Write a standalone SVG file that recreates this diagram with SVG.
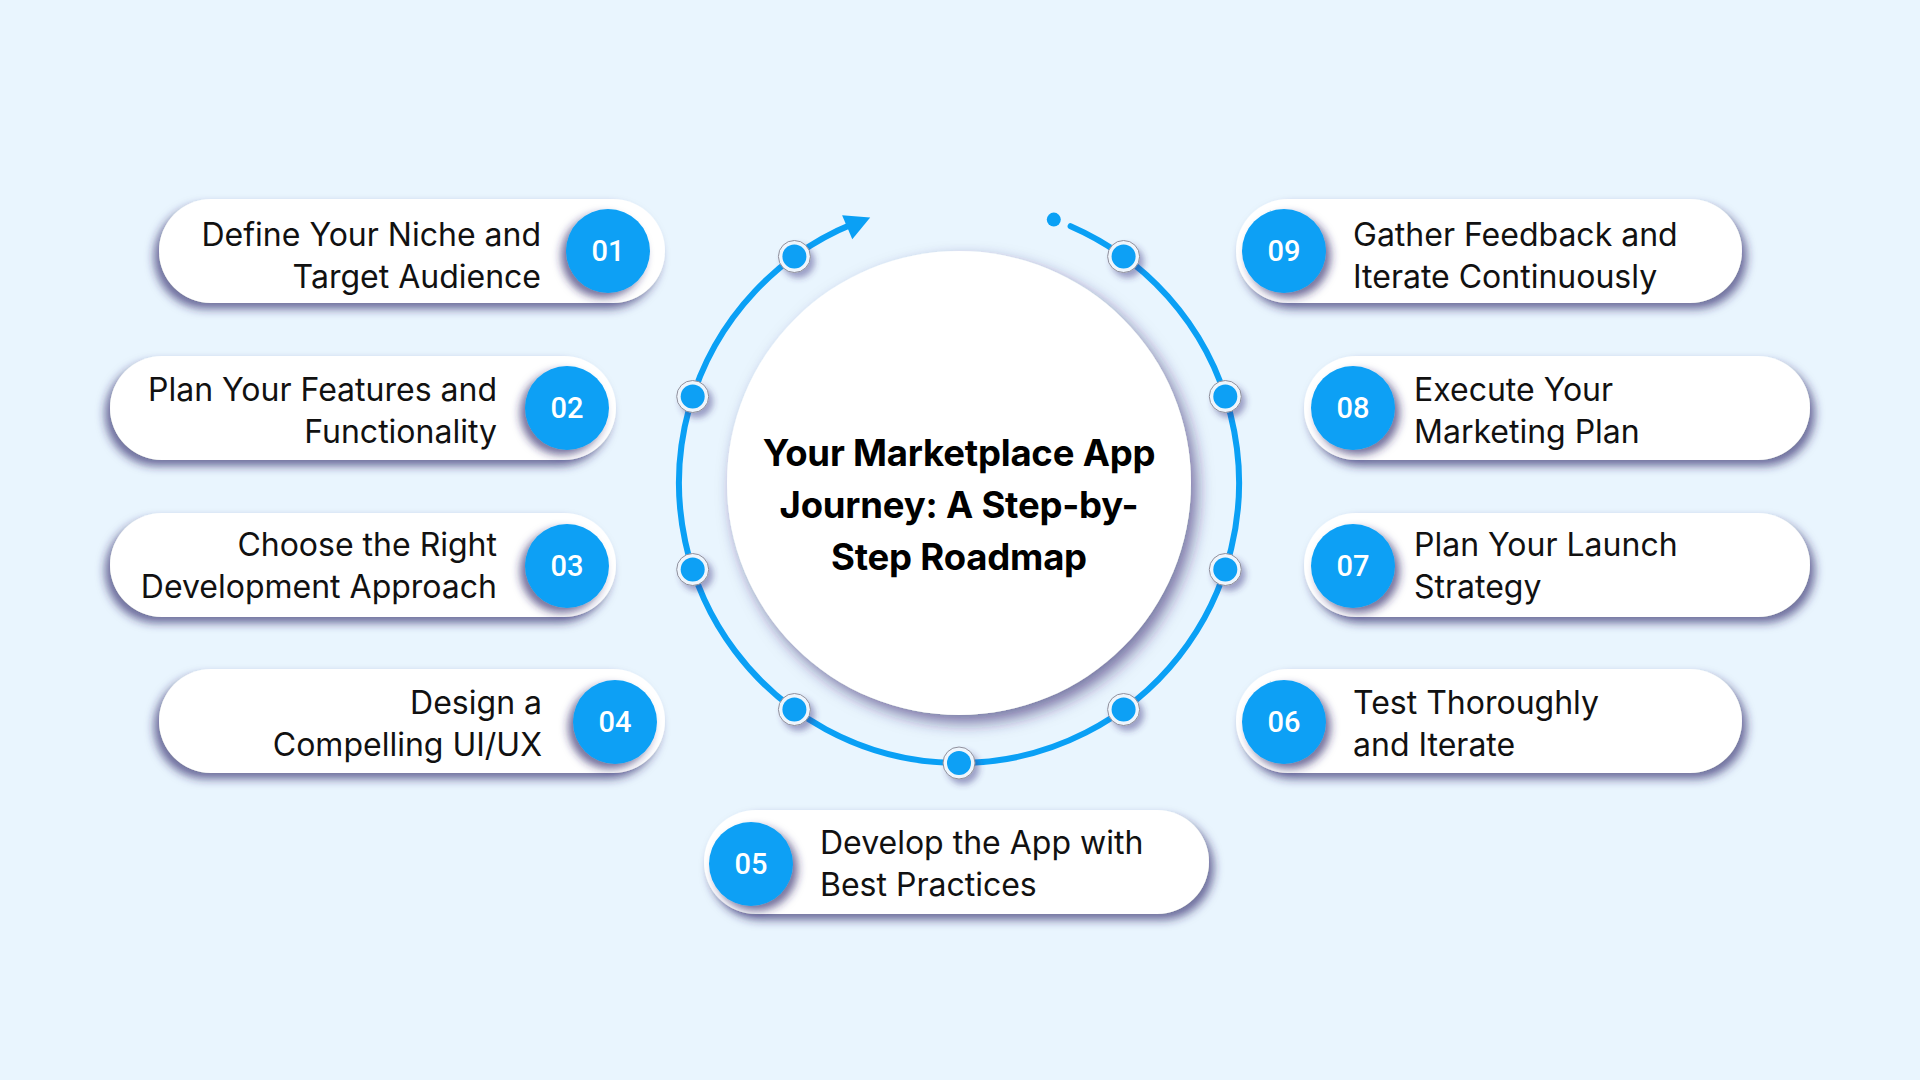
<svg xmlns="http://www.w3.org/2000/svg" width="1920" height="1080" viewBox="0 0 1920 1080">
<defs>
<filter id="shL" x="-20%" y="-40%" width="140%" height="190%">
<feDropShadow dx="-5" dy="6" stdDeviation="5" flood-color="#2a2468" flood-opacity="0.65"/>
</filter>
<filter id="shR" x="-20%" y="-40%" width="140%" height="190%">
<feDropShadow dx="5" dy="6" stdDeviation="5" flood-color="#2a2468" flood-opacity="0.65"/>
</filter>
<filter id="bshL" x="-50%" y="-50%" width="200%" height="200%">
<feDropShadow dx="-5" dy="5" stdDeviation="4" flood-color="#2a2468" flood-opacity="0.65"/>
</filter>
<filter id="bshR" x="-50%" y="-50%" width="200%" height="200%">
<feDropShadow dx="5" dy="5" stdDeviation="4" flood-color="#2a2468" flood-opacity="0.65"/>
</filter>
<filter id="csh" x="-20%" y="-20%" width="140%" height="140%">
<feDropShadow dx="6" dy="8" stdDeviation="8" flood-color="#2a2468" flood-opacity="0.6"/>
</filter>
<filter id="dsh" x="-60%" y="-60%" width="220%" height="220%">
<feDropShadow dx="4" dy="5" stdDeviation="3" flood-color="#3a3480" flood-opacity="0.45"/>
</filter>
</defs>
<style>
.pill{fill:#ffffff}
.badge{fill:#0aa0f5}
.num{font-family:Roboto,"Liberation Sans",sans-serif;font-weight:500;font-size:29px;fill:#ffffff;text-anchor:middle}
.lbl{font-family:Inter,"Liberation Sans",sans-serif;font-size:32px;fill:#111111}
.r{text-anchor:end}
.title{font-family:Inter,"Liberation Sans",sans-serif;font-weight:700;font-size:36.5px;fill:#000000;text-anchor:middle;letter-spacing:-0.2px}
.ring{fill:none;stroke:#0aa0f5;stroke-width:6;stroke-linecap:round}
.dotO{fill:#eef5fc;stroke:#8f8f9c;stroke-width:1}
.dotI{fill:#0aa0f5}
</style>
<rect x="0" y="0" width="1920" height="1080" fill="#e9f5fe"/>

<g id="connectors">
<path class="ring" d="M 1070.6 226.2 A 280 280 0 1 1 854.1 223.4"/>
<polygon points="870.2,217.5 842.1,215.3 852.3,239.3" fill="#0aa0f5"/>
<circle cx="1053.8" cy="219.6" r="7" fill="#0aa0f5"/>
<g filter="url(#dsh)">
<circle class="dotO" cx="794.4" cy="256.5" r="16"/><circle class="dotI" cx="794.4" cy="256.5" r="12"/>
<circle class="dotO" cx="1123.6" cy="256.5" r="16"/><circle class="dotI" cx="1123.6" cy="256.5" r="12"/>
<circle class="dotO" cx="692.7" cy="396.5" r="16"/><circle class="dotI" cx="692.7" cy="396.5" r="12"/>
<circle class="dotO" cx="1225.3" cy="396.5" r="16"/><circle class="dotI" cx="1225.3" cy="396.5" r="12"/>
<circle class="dotO" cx="692.7" cy="569.5" r="16"/><circle class="dotI" cx="692.7" cy="569.5" r="12"/>
<circle class="dotO" cx="1225.3" cy="569.5" r="16"/><circle class="dotI" cx="1225.3" cy="569.5" r="12"/>
<circle class="dotO" cx="794.4" cy="709.5" r="16"/><circle class="dotI" cx="794.4" cy="709.5" r="12"/>
<circle class="dotO" cx="1123.6" cy="709.5" r="16"/><circle class="dotI" cx="1123.6" cy="709.5" r="12"/>
<circle class="dotO" cx="959" cy="763" r="16"/><circle class="dotI" cx="959" cy="763" r="12"/>
</g>
</g>

<g id="center">
<circle cx="959" cy="483" r="232" fill="#ffffff" filter="url(#csh)"/>
<text class="title" x="959" y="466">Your Marketplace App</text>
<text class="title" x="959" y="518">Journey: A Step-by-</text>
<text class="title" x="959" y="570">Step Roadmap</text>
</g>

<g id="step01">
<rect class="pill" x="159" y="199" width="506" height="104" rx="52" filter="url(#shL)"/>
<circle class="badge" cx="608" cy="251" r="42" filter="url(#bshL)"/>
<text class="num" x="608" y="261">01</text>
<text class="lbl r" x="541" y="246">Define Your Niche and</text>
<text class="lbl r" x="541" y="288">Target Audience</text>
</g>

<g id="step02">
<rect class="pill" x="110" y="356" width="506" height="104" rx="52" filter="url(#shL)"/>
<circle class="badge" cx="567" cy="408" r="42" filter="url(#bshL)"/>
<text class="num" x="567" y="418">02</text>
<text class="lbl r" x="497" y="401">Plan Your Features and</text>
<text class="lbl r" x="497" y="443">Functionality</text>
</g>

<g id="step03">
<rect class="pill" x="110" y="513" width="506" height="104" rx="52" filter="url(#shL)"/>
<circle class="badge" cx="567" cy="566" r="42" filter="url(#bshL)"/>
<text class="num" x="567" y="576">03</text>
<text class="lbl r" x="497" y="556">Choose the Right</text>
<text class="lbl r" x="497" y="598">Development Approach</text>
</g>

<g id="step04">
<rect class="pill" x="159" y="669" width="506" height="104" rx="52" filter="url(#shL)"/>
<circle class="badge" cx="615" cy="722" r="42" filter="url(#bshL)"/>
<text class="num" x="615" y="732">04</text>
<text class="lbl r" x="542" y="714">Design a</text>
<text class="lbl r" x="542" y="756">Compelling UI/UX</text>
</g>

<g id="step05">
<rect class="pill" x="704" y="810" width="505" height="104" rx="52" filter="url(#shR)"/>
<circle class="badge" cx="751" cy="864" r="42" filter="url(#bshR)"/>
<text class="num" x="751" y="874">05</text>
<text class="lbl" x="820" y="854">Develop the App with</text>
<text class="lbl" x="820" y="896">Best Practices</text>
</g>

<g id="step06">
<rect class="pill" x="1236" y="669" width="506" height="104" rx="52" filter="url(#shR)"/>
<circle class="badge" cx="1284" cy="722" r="42" filter="url(#bshR)"/>
<text class="num" x="1284" y="732">06</text>
<text class="lbl" x="1353" y="714">Test Thoroughly</text>
<text class="lbl" x="1353" y="756">and Iterate</text>
</g>

<g id="step07">
<rect class="pill" x="1304" y="513" width="506" height="104" rx="52" filter="url(#shR)"/>
<circle class="badge" cx="1353" cy="566" r="42" filter="url(#bshR)"/>
<text class="num" x="1353" y="576">07</text>
<text class="lbl" x="1414" y="556">Plan Your Launch</text>
<text class="lbl" x="1414" y="598">Strategy</text>
</g>

<g id="step08">
<rect class="pill" x="1304" y="356" width="506" height="104" rx="52" filter="url(#shR)"/>
<circle class="badge" cx="1353" cy="408" r="42" filter="url(#bshR)"/>
<text class="num" x="1353" y="418">08</text>
<text class="lbl" x="1414" y="401">Execute Your</text>
<text class="lbl" x="1414" y="443">Marketing Plan</text>
</g>

<g id="step09">
<rect class="pill" x="1236" y="199" width="506" height="104" rx="52" filter="url(#shR)"/>
<circle class="badge" cx="1284" cy="251" r="42" filter="url(#bshR)"/>
<text class="num" x="1284" y="261">09</text>
<text class="lbl" x="1353" y="246">Gather Feedback and</text>
<text class="lbl" x="1353" y="288">Iterate Continuously</text>
</g>
</svg>
